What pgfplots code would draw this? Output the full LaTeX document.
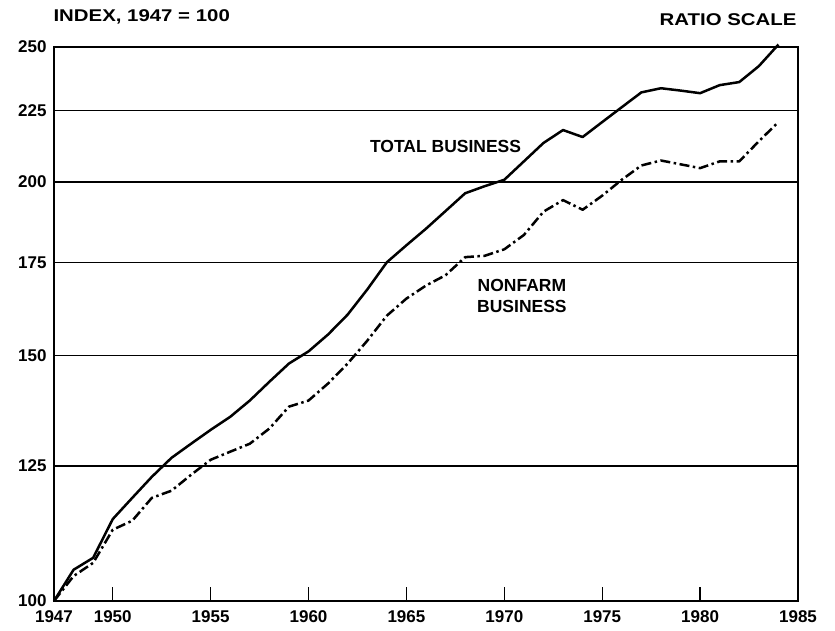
\documentclass[border=0pt]{standalone}
\usepackage{fontspec}
\setmainfont{Liberation Sans}
\newfontfamily\widefont{Liberation Sans}[FakeStretch=1.2]
\usepackage{pgfplots}
\pgfplotsset{compat=1.18}
\pgfplotstableread{
year total
1947 100
1948 105.3
1949 107.4
1950 114.5
1951 118.6
1952 122.8
1953 126.7
1954 129.7
1955 132.7
1956 135.6
1957 139.3
1958 143.7
1959 148.1
1960 151.1
1961 155.4
1962 160.6
1963 167.4
1964 175.1
1965 180.1
1966 185.1
1967 190.6
1968 196.3
1969 198.6
1970 200.7
1971 206.9
1972 213.3
1973 217.9
1974 215.4
1975 220.8
1976 226.3
1977 231.9
1978 233.5
1979 232.6
1980 231.6
1981 234.7
1982 235.9
1983 242.2
1984 251.0
}\totaltable
\pgfplotstableread{
year nonfarm
1947 100
1948 104.2
1949 106.5
1950 112.5
1951 114.2
1952 118.6
1953 120.0
1954 123.2
1955 126.3
1956 128.0
1957 129.7
1958 133.0
1959 137.9
1960 139.3
1961 143.3
1962 148.1
1963 153.8
1964 160.3
1965 164.9
1966 168.5
1967 171.4
1968 176.6
1969 177.0
1970 178.9
1971 183.2
1972 190.4
1973 194.1
1974 191.0
1975 195.5
1976 200.7
1977 205.5
1978 207.2
1979 205.9
1980 204.6
1981 206.9
1982 206.9
1983 213.9
1984 220.8
}\nonfarmtable
\begin{document}
\begin{tikzpicture}
\begin{axis}[
  scale only axis, width=744pt, height=554pt,
  xmin=1947, xmax=1985, ymin=100, ymax=250,
  ymode=log,
  xtick={1947,1950,1955,1960,1965,1970,1975,1980,1985},
  xticklabels={1947,1950,1955,1960,1965,1970,1975,1980,1985},
  ytick={100,125,150,175,200,225,250},
  yticklabels={100,125,150,175,200,225,250},
  xtick pos=bottom, ytick pos=left,
  tick align=inside,
  major tick length=14pt,
  ytick style={draw=none},
  xtick style={black, line width=1.3pt},
  ymajorgrids, grid style={black, line width=1.2pt},
  axis line style={black, line width=1.3pt},
  ticklabel style={font=\bfseries\fontsize{17}{17}\selectfont},
  xticklabel style={yshift=-6pt},
  yticklabel style={xshift=-4pt},
  clip=false,
]
\addplot[black, line width=2.5pt, line join=round] table[x=year, y=total] {\totaltable};
\addplot[black, line width=2.5pt, line join=round, dash pattern=on 10pt off 3.5pt on 2.5pt off 3.5pt] table[x=year, y=nonfarm] {\nonfarmtable};
\node[font=\bfseries\fontsize{17.5}{21}\selectfont] at (axis cs:1967,212) {TOTAL BUSINESS};
\node[font=\bfseries\fontsize{17.5}{21}\selectfont, align=center] at (axis cs:1970.9,165.5) {NONFARM\\BUSINESS};
\end{axis}
\node[anchor=base west, font=\widefont\bfseries\fontsize{17}{17}\selectfont] at ([xshift=-4pt,yshift=25pt]current axis.north west) {INDEX, 1947 = 100};
\node[anchor=base east, font=\widefont\bfseries\fontsize{17}{17}\selectfont] at ([xshift=2pt,yshift=21pt]current axis.north east) {RATIO SCALE};
\pgfresetboundingbox
\path ([xshift=-54pt,yshift=-30pt]current axis.south west) rectangle ([xshift=37pt,yshift=47pt]current axis.north east);
\end{tikzpicture}
\end{document}
